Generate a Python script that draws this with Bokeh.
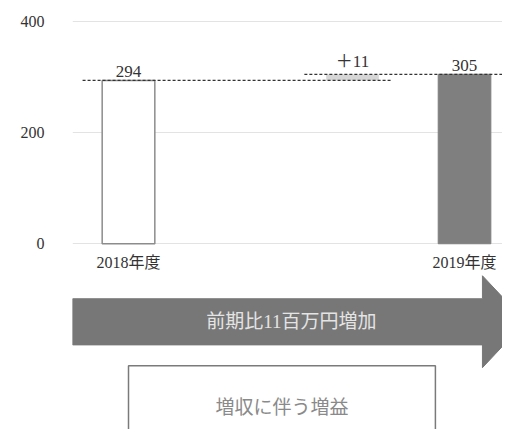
from bokeh.plotting import figure
from bokeh.models import Range1d, FixedTicker
from bokeh.core.properties import value
from bokeh.embed import file_html
from bokeh.resources import INLINE

# ---- data ----
categories = ["2018年度", "", "", "2019年度"]
fy2018 = 294
diff = 11
fy2019 = 305
value_labels = ["294", "＋11", "305"]
y_ticks = [0, 200, 400]
arrow_text = "前期比11百万円増加"
box_text = "増収に伴う増益"

SERIF = value("'Liberation Serif', 'Noto Sans CJK JP'")
X_END = 3.339

p = figure(width=502, height=429, output_backend="svg", toolbar_location=None,
           x_range=Range1d(-0.5, X_END), y_range=Range1d(-334.3, 437.8),
           x_axis_location=None, y_axis_location="left",
           min_border_left=72, min_border_right=0, min_border_top=0, min_border_bottom=0)
p.outline_line_color = None
p.xgrid.visible = False
p.ygrid.ticker = FixedTicker(ticks=y_ticks)
p.ygrid.grid_line_color = "#e3e3e3"
p.ygrid.grid_line_width = 1.2
ax = p.yaxis[0]
ax.ticker = FixedTicker(ticks=y_ticks)
ax.axis_line_color = None
ax.major_tick_line_color = None
ax.minor_tick_line_color = None
ax.major_tick_out = 0
ax.major_label_standoff = 28
ax.major_label_text_font = "Liberation Serif"
ax.major_label_text_font_size = "16px"
ax.major_label_text_color = "#333333"

W = 0.47
i0, i1, i2 = 0, 2, 3

# 2018 bar (outlined)
p.vbar(x=[i0], top=[fy2018], bottom=0, width=W, fill_color="white",
       line_color="#8c8c8c", line_width=1.5)
# difference bar (floating, light)
p.vbar(x=[i1], top=[fy2018 + diff], bottom=[fy2018], width=W,
       fill_color="#d6d6d6", line_color=None)
# 2019 bar (filled)
p.vbar(x=[i2], top=[fy2019], bottom=0, width=W, fill_color="#7f7f7f",
       line_color="#7f7f7f")

# dashed connectors
p.segment(x0=[i0 - 0.41, i1 - 0.43], x1=[i1 + 0.357, X_END],
          y0=[fy2018, fy2018 + diff], y1=[fy2018, fy2018 + diff],
          line_color="#333333", line_width=1.2, line_dash="3 2")

# value labels
p.text(x=[i0, i1, i2], y=[fy2018, fy2018 + diff, fy2019], text=value_labels,
       text_font=SERIF, text_font_size="17px", text_color="#333333",
       text_align="center", text_baseline="bottom", y_offset=-3)

# category labels
cat_x = [i for i, c in enumerate(categories) if c]
cat_t = [c for c in categories if c]
p.text(x=cat_x, y=[0] * len(cat_x), text=cat_t, text_font=SERIF,
       text_font_size="16px", text_color="#333333", text_align="center",
       text_baseline="top", y_offset=10)

# big arrow
ax_x = [-0.5, 3.16, 3.16, 3.545, 3.16, 3.16, -0.5]
ax_y = [-99, -99, -57.6, -140.3, -223, -182, -182]
p.patch(ax_x, ax_y, fill_color="#777777", line_color="#777777")
p.text(x=[1.455], y=[-140.5], text=[arrow_text], text_font=SERIF,
       text_font_size="19px", text_color="#e4e4e4", text_align="center",
       text_baseline="middle")

# box
p.quad(left=[0], right=[2.74], top=[-219.6], bottom=[-380],
       fill_color="white", line_color="#7a7a7a", line_width=1.5)
p.text(x=[1.37], y=[-295], text=[box_text], text_font=SERIF,
       text_font_size="19px", text_color="#8a8a8a", text_align="center",
       text_baseline="middle")

open("out.html", "w").write(file_html(p, INLINE))
